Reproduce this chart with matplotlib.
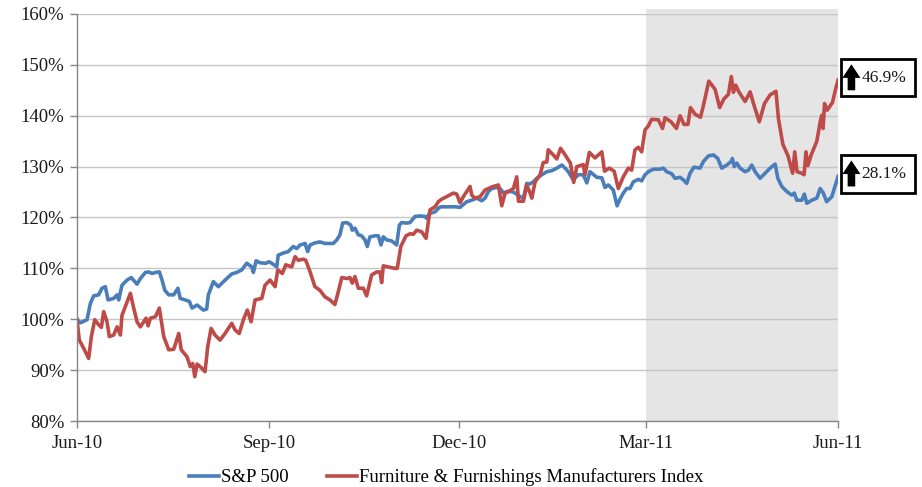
import pandas as pd
import matplotlib.pyplot as plt
import matplotlib.dates as mdates
from matplotlib.patches import Rectangle, FancyArrowPatch
import matplotlib.transforms as mtransforms

start = pd.Timestamp("2010-06-01")

# S&P 500, indexed to 100% (day offset from 1 Jun 2010, value in %)
sp_days = [0, 1.6, 4.8, 6.4, 8.0, 10.4, 12.0, 13.6, 14.9, 17.6, 19.2, 20.0, 21.6, 24.0, 26.0, 28.8,
           30.4, 32.8, 34.4, 36.0, 37.6, 39.5, 40.8, 42.1, 44.0, 46.4, 48.4, 49.5, 51.9, 53.9, 55.2,
           57.6, 60.6, 62.2, 63.0, 65.4, 67.8, 71.8, 74.2, 76.6, 79.0, 81.4, 83.8, 84.6, 85.9, 87.8,
           90.5, 92.1, 93.4, 95.8, 96.5, 98.9, 101.3, 103.7, 105.4, 107.0, 109.4, 110.6, 111.8, 114.1,
           116.5, 118.9, 122.9, 124.6, 126.1, 127.4, 129.4, 131.3, 132.0, 133.3, 134.9, 136.5, 138.1,
           139.2, 140.5, 142.9, 144.5, 145.8, 146.9, 148.5, 150.9, 153.3, 154.6, 155.7, 158.1, 159.7,
           162.1, 164.5, 166.9, 167.7, 169.0, 171.7, 173.3, 174.4, 178.9, 181.3, 183.7, 186.9, 189.3,
           191.7, 194.1, 195.7, 197.3, 198.9, 201.3, 202.9, 204.5, 206.1, 208.5, 210.1, 212.5, 214.1,
           215.7, 217.3, 218.8, 220.5, 222.9, 225.3, 227.7, 230.1, 232.5, 234.1, 235.6, 238.0, 240.4,
           242.8, 244.5, 246.0, 249.3, 251.7, 253.2, 254.8, 257.2, 259.0, 260.4, 262.0, 263.6, 265.2,
           266.8, 269.2, 270.8, 272.4, 274.0, 276.4, 279.6, 281.2, 282.8, 285.2, 286.8, 289.2, 290.8,
           292.4, 294.0, 295.9, 298.8, 300.4, 302.8, 305.2, 307.3, 309.2, 311.6, 313.7, 314.3, 315.2,
           316.4, 318.0, 320.4, 322.0, 323.6, 325.2, 327.6, 330.0, 332.4, 334.8, 336.1, 338.0, 340.4,
           342.8, 344.0, 345.2, 347.6, 348.8, 350.0, 352.4, 354.8, 356.4, 357.9, 359.5, 362.0, 363.5,
           365.0]
sp_vals = [100.0, 99.3, 99.9, 103.1, 104.6, 104.8, 106.1, 106.4, 103.8, 104.1, 104.8, 103.8, 106.7,
           107.7, 108.2, 106.9, 108.0, 109.2, 109.3, 109.0, 109.2, 109.3, 107.7, 105.7, 104.8, 104.8,
           106.1, 104.1, 103.8, 103.5, 102.2, 102.8, 101.8, 102.0, 104.8, 107.4, 106.4, 108.0, 108.9,
           109.2, 109.7, 111.0, 110.3, 109.2, 111.5, 111.1, 111.0, 111.3, 111.0, 110.3, 112.6, 113.0,
           113.3, 114.3, 113.9, 114.6, 114.9, 113.3, 114.6, 115.0, 115.2, 114.9, 114.9, 115.6, 116.6,
           118.9, 119.0, 118.5, 117.5, 117.9, 116.6, 116.4, 115.6, 114.3, 116.2, 116.4, 116.4, 114.6,
           116.2, 115.6, 115.4, 114.6, 118.5, 119.0, 118.9, 119.0, 120.2, 120.3, 120.2, 119.8, 120.8,
           121.1, 121.8, 122.1, 122.1, 122.1, 122.0, 123.1, 123.4, 123.8, 123.3, 123.8, 125.1, 125.7,
           125.9, 125.7, 124.8, 125.1, 125.1, 124.8, 124.1, 123.8, 126.7, 126.6, 127.0, 127.7, 128.4,
           129.0, 129.2, 129.7, 130.3, 129.7, 129.0, 127.4, 128.4, 128.4, 126.8, 129.0, 127.9, 127.8,
           125.9, 126.4, 125.4, 122.3, 123.6, 124.8, 125.7, 125.7, 127.0, 127.5, 127.2, 128.4, 129.0,
           129.5, 129.5, 129.7, 129.0, 128.6, 127.7, 127.9, 127.4, 126.7, 128.7, 129.9, 129.7, 131.0,
           132.1, 132.3, 131.6, 129.7, 130.3, 131.0, 131.6, 130.0, 130.7, 129.7, 129.0, 129.3, 130.3,
           129.0, 127.7, 128.7, 129.7, 130.5, 127.7, 126.1, 125.1, 124.4, 124.8, 123.4, 123.4, 124.6,
           122.8, 123.4, 123.8, 125.7, 124.8, 123.1, 124.1, 126.1, 128.1]

# Furniture & Furnishings Manufacturers Index, indexed to 100%
ff_days = [0, 1.1, 3.2, 5.6, 6.9, 8.5, 10.4, 11.7, 12.8, 14.4, 15.5, 17.6, 19.2, 20.8, 21.6, 23.2,
           25.6, 27.2, 28.8, 30.4, 32.0, 33.1, 34.1, 35.2, 37.6, 39.5, 41.6, 44.0, 46.4, 48.8, 50.0,
           52.8, 54.3, 55.5, 56.5, 57.6, 59.8, 61.4, 62.7, 64.3, 66.2, 68.6, 71.0, 74.2, 75.8, 77.8,
           79.8, 81.7, 83.5, 85.4, 88.6, 90.2, 92.6, 95.0, 96.3, 98.5, 100.1, 103.0, 104.6, 106.1,
           108.5, 109.7, 111.8, 114.1, 116.5, 118.9, 121.3, 123.7, 125.3, 127.0, 129.4, 130.9, 132.0,
           133.3, 134.9, 137.3, 138.9, 141.3, 143.7, 145.3, 146.1, 146.9, 150.1, 152.5, 153.6, 155.3,
           157.8, 159.7, 161.3, 162.9, 165.3, 167.4, 169.3, 171.7, 173.3, 174.9, 177.3, 180.5, 182.1,
           183.7, 185.3, 186.9, 188.5, 189.3, 190.9, 193.3, 195.7, 198.9, 202.1, 203.7, 205.3, 206.9,
           209.3, 210.9, 211.7, 214.1, 215.7, 217.3, 218.1, 219.7, 222.1, 223.6, 225.3, 226.0, 228.4,
           230.1, 231.9, 234.1, 236.6, 238.2, 239.7, 242.8, 243.6, 245.7, 248.4, 251.7, 253.0, 255.3,
           257.6, 259.6, 262.0, 264.4, 266.0, 267.6, 269.2, 270.8, 272.4, 274.0, 275.6, 278.8, 280.8,
           282.0, 284.9, 287.5, 289.2, 291.1, 293.0, 294.2, 296.4, 299.0, 300.4, 303.0, 306.0, 308.2,
           310.2, 312.4, 313.8, 314.8, 315.9, 317.4, 320.4, 322.8, 324.5, 327.2, 329.7, 332.4, 335.2,
           336.4, 338.5, 341.0, 343.2, 344.2, 345.3, 347.6, 348.7, 349.6, 350.5, 352.1, 354.8, 356.5,
           357.2, 357.8, 358.5, 359.8, 362.3, 363.9, 365.0]
ff_vals = [100.0, 95.9, 94.3, 92.3, 96.6, 99.9, 98.9, 98.4, 101.5, 99.5, 96.6, 96.9, 98.5, 96.9,
           100.8, 102.5, 105.1, 102.2, 99.5, 98.5, 99.5, 100.2, 98.7, 100.2, 100.5, 102.2, 96.6, 94.0,
           94.1, 97.2, 94.0, 92.6, 90.7, 91.3, 88.7, 91.2, 90.4, 89.7, 94.6, 98.2, 96.9, 95.9, 97.2,
           99.2, 97.9, 97.2, 99.9, 101.8, 99.5, 103.8, 104.1, 106.7, 107.7, 106.4, 109.7, 109.0, 110.7,
           110.3, 112.3, 111.6, 111.8, 111.6, 109.3, 106.4, 105.7, 104.4, 103.8, 102.9, 105.4, 108.2,
           108.0, 108.2, 107.1, 108.4, 106.1, 106.1, 104.6, 108.7, 109.3, 109.3, 107.2, 110.5, 110.2,
           110.0, 110.0, 114.3, 116.4, 116.8, 116.7, 117.5, 117.2, 115.9, 121.5, 122.1, 123.1, 123.6,
           124.1, 124.8, 124.6, 122.9, 124.1, 125.1, 126.1, 124.4, 123.8, 124.1, 125.4, 126.0, 126.4,
           122.3, 124.8, 125.1, 125.7, 128.0, 123.2, 123.2, 126.4, 124.8, 123.8, 127.0, 128.4, 130.8,
           130.9, 133.3, 132.3, 131.5, 133.6, 132.3, 130.7, 126.9, 130.0, 130.4, 128.4, 132.8, 131.7,
           132.9, 129.1, 129.7, 129.1, 125.7, 128.0, 129.7, 129.3, 133.3, 133.8, 132.9, 137.2, 138.0,
           139.3, 139.2, 137.5, 139.6, 138.8, 137.5, 140.0, 138.3, 138.3, 141.6, 140.3, 139.7, 142.0,
           146.8, 145.2, 141.6, 143.3, 144.2, 147.7, 144.6, 146.0, 144.7, 142.8, 144.7, 142.3, 138.8,
           142.4, 144.1, 144.8, 139.4, 134.4, 132.1, 128.7, 132.9, 129.0, 128.7, 128.4, 132.9, 130.2,
           132.3, 135.0, 139.0, 140.1, 137.5, 142.4, 141.1, 142.6, 145.4, 147.0]

series_names = ["S&P 500", "Furniture & Furnishings Manufacturers Index"]
series_colors = ["#4a7ebb", "#be4b48"]
changes = ["28.1%", "46.9%"]
tick_dates = ["2010-06-01", "2010-09-01", "2010-12-01", "2011-03-01", "2011-06-01"]
shade_from, shade_to = "2011-03-01", "2011-06-01"

plt.rcParams['font.family'] = ['Liberation Serif', 'DejaVu Serif']

fig = plt.figure(figsize=(9.22, 4.87), dpi=100)
ax = fig.add_axes([0.0835, 0.1355, 0.8255, 0.8358])

# shaded recent period (pokes slightly above the top gridline like the original)
x0 = mdates.date2num(pd.Timestamp(shade_from))
x1 = mdates.date2num(pd.Timestamp(shade_to))
ax.add_patch(Rectangle((x0, 80), x1 - x0, 81, facecolor="#e5e5e5", edgecolor="none",
                       zorder=0, clip_on=False))

sp_dates = [start + pd.Timedelta(days=d) for d in sp_days]
ff_dates = [start + pd.Timedelta(days=d) for d in ff_days]
ax.plot(sp_dates, sp_vals, color=series_colors[0], lw=2.6, label=series_names[0], zorder=3,
        solid_joinstyle="round")
ax.plot(ff_dates, ff_vals, color=series_colors[1], lw=2.6, label=series_names[1], zorder=3,
        solid_joinstyle="round")

ax.set_xlim(pd.Timestamp(tick_dates[0]), pd.Timestamp(tick_dates[-1]))
ax.set_ylim(80, 160)
ax.set_yticks(range(80, 161, 10))
ax.set_yticklabels([f"{v}%" for v in range(80, 161, 10)])
ax.set_xticks([pd.Timestamp(t) for t in tick_dates])
ax.xaxis.set_major_formatter(mdates.DateFormatter("%b-%y"))
ax.tick_params(labelsize=13.5, colors="#868686", labelcolor="#1a1a1a", length=5, width=1)
ax.tick_params(axis="x", pad=5)
ax.tick_params(axis="y", pad=4)

ax.grid(axis="y", color="#c6c6c6", lw=1, zorder=1)
ax.set_axisbelow(False)
for g in ax.get_ygridlines():
    g.set_zorder(1)
for s in ["top", "right"]:
    ax.spines[s].set_visible(False)
for s in ["left", "bottom"]:
    ax.spines[s].set_color("#868686")
    ax.spines[s].set_linewidth(1)
    ax.spines[s].set_zorder(4)

# change boxes on the right
trans = mtransforms.blended_transform_factory(ax.transAxes, ax.transData)
finals = [sp_vals[-1], ff_vals[-1]]
for val, txt in zip(finals, changes):
    yc = val + 0.5
    ax.add_patch(Rectangle((1.004, yc - 3.7), 0.097, 7.4, transform=trans, facecolor="white",
                           edgecolor="black", lw=2, clip_on=False, zorder=5))
    arr = FancyArrowPatch((1.0175, yc - 2.5), (1.0175, yc + 2.6), transform=trans,
                          arrowstyle="simple,head_length=0.75,head_width=1.0,tail_width=0.42",
                          mutation_scale=13, shrinkA=0, shrinkB=0, color="black", lw=0,
                          clip_on=False, zorder=6)
    ax.add_patch(arr)
    ax.text(1.031, yc, txt, transform=trans, ha="left", va="center", fontsize=12.5,
            color="#1a1a1a", zorder=6, clip_on=False)

fig.legend(loc="center", bbox_to_anchor=(0.484, 0.02), ncol=2, frameon=False,
           fontsize=13.5, handlelength=1.6, handletextpad=0.15, columnspacing=2.0)

fig.savefig("out.png", dpi=100)
